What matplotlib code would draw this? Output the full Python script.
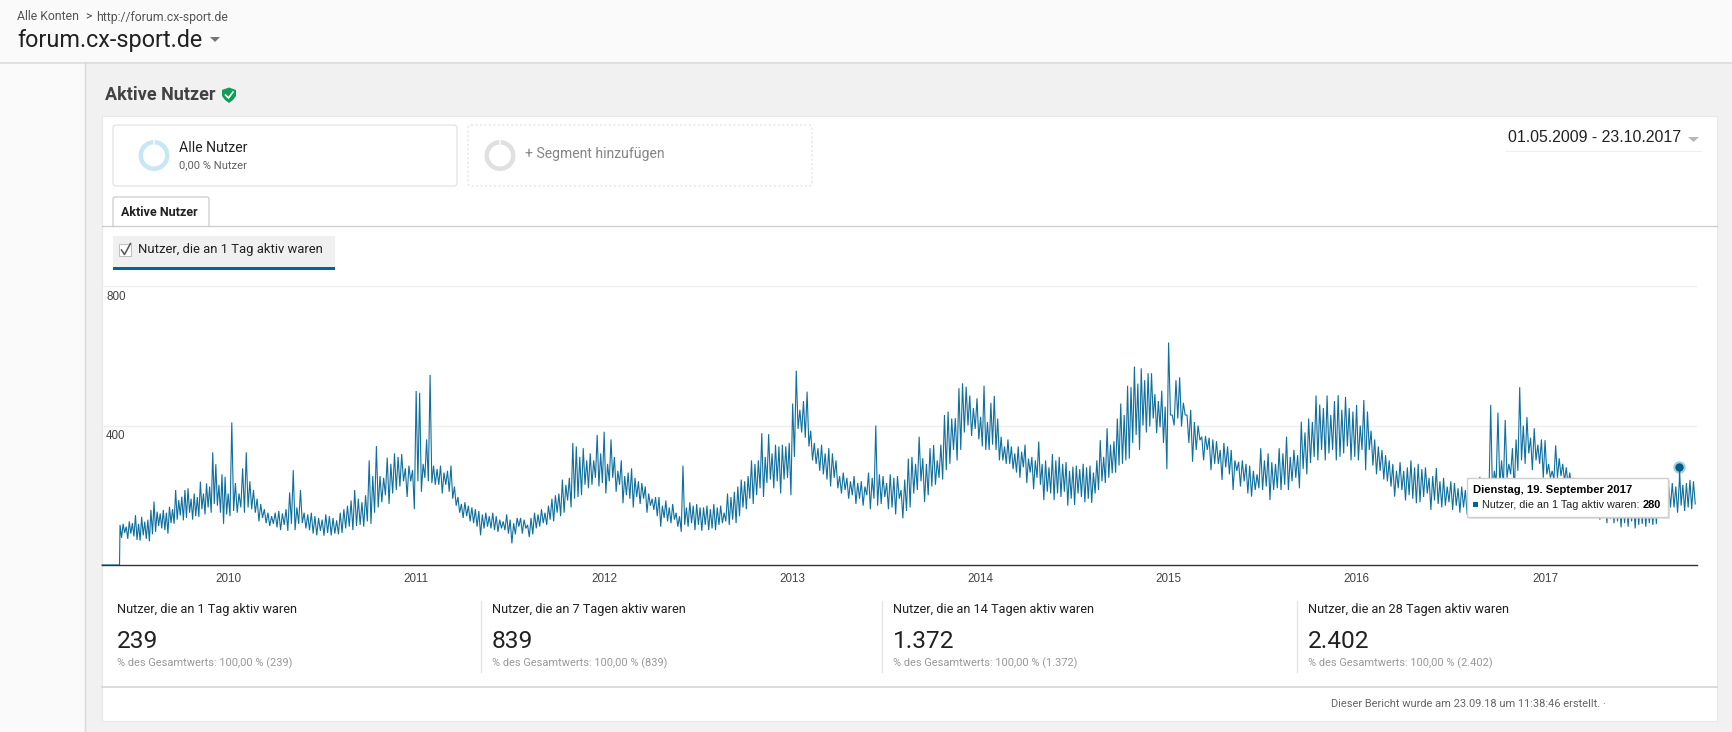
import numpy as np
import matplotlib
matplotlib.use("Agg")
import matplotlib.pyplot as plt
import matplotlib.dates as mdates
from matplotlib.patches import Rectangle, FancyBboxPatch, Wedge, Polygon
import datetime as dt

### values, alternating weekly high / weekly low
nutzer_2009 = [115,78, 118,92, 110,75, 125,90, 120,82, 143,72, 118,70, 138,85, 124,75, 130,68,
               158,88, 182,95, 153,112, 148,105, 158,100, 150,90, 167,120, 160,118, 215,130, 186,142,
               196,128, 215,135, 220,150, 190,130, 205,140, 195,138, 239,160, 205,145, 234,165, 225,150,
               323,175, 289,170, 230,150, 260,118, 253,145]
nutzer_2010 = [205,140, 409,155, 235,150, 205,165, 277,150, 323,165, 240,160, 215,150, 190,125, 175,135,
               160,120, 150,112, 140,118, 150,108, 155,100, 148,115, 160,98, 208,118, 272,100, 165,118,
               215,120, 150,105, 145,100, 150,90, 140,85, 135,98, 130,84, 145,92, 140,85, 135,90,
               128,88, 150,92, 160,105, 170,110, 185,100, 215,112, 190,115, 180,110, 200,125, 300,118,
               255,150, 341,165, 255,180, 250,200, 308,175, 290,205, 320,215, 310,225, 318,240, 277,195,
               285,240, 272,160]
nutzer_2011 = [499,240, 494,210, 290,250, 360,240, 545,235, 285,230, 275,230, 285,205, 265,230, 270,210,
               285,190, 225,170, 195,150, 175,135, 180,140, 170,125, 165,120, 160,110, 155,85, 145,105,
               150,110, 140,105, 150,100, 140,95, 130,105, 125,100, 145,90, 130,62, 120,88, 135,110,
               135,90, 130,105, 115,80, 135,88, 150,105, 145,110, 160,120, 150,115, 170,130, 190,125,
               200,150, 205,140, 245,150, 230,185, 250,165, 350,190, 340,195, 310,200, 335,230, 300,220,
               320,230, 300,250, 373,225, 320,235]
nutzer_2012 = [382,205, 290,240, 360,250, 310,210, 270,230, 300,177, 255,200, 265,190, 277,165, 250,195,
               240,175, 235,190, 225,150, 205,170, 190,158, 195,140, 195,110, 170,135, 185,125, 165,120,
               175,130, 150,110, 140,95, 285,115, 165,110, 180,120, 170,100, 175,115, 165,98, 165,115,
               170,100, 160,105, 175,100, 165,115, 170,120, 150,125, 205,115, 195,130, 210,120, 225,140,
               245,165, 240,160, 255,190, 300,175, 290,200, 300,220, 378,195, 310,235, 375,245, 320,220,
               345,240, 340,205, 345,245, 340,250, 350,200]
nutzer_2013 = [463,310, 557,390, 445,380, 470,365, 497,340, 385,300, 350,290, 335,270, 345,260, 320,245,
               335,225, 320,250, 300,220, 255,205, 265,215, 250,190, 240,200, 255,175, 235,190, 240,170,
               225,200, 265,160, 250,190, 400,170, 260,175, 255,195, 235,160, 260,165, 250,145, 255,190,
               215,134, 245,155, 305,165, 310,205, 290,215, 368,240, 306,181, 290,200, 335,225, 344,230,
               300,250, 345,245, 430,272, 440,290, 420,330, 421,300, 507,330, 521,380, 511,400, 486,370,
               450,390, 478,360]
nutzer_2014 = [425,340, 514,330, 410,330, 465,345, 485,330, 420,300, 368,300, 340,290, 360,290, 340,275,
               320,265, 340,250, 325,280, 345,235, 305,265, 310,217, 300,250, 354,230, 290,186, 300,210,
               280,205, 318,186, 300,205, 310,195, 290,210, 295,170, 270,190, 282,172, 285,205, 275,195,
               290,180, 280,190, 285,178, 265,205, 300,215, 358,240, 310,235, 392,250, 345,263, 355,265,
               420,285, 463,290, 430,300, 514,305, 510,350, 569,373, 520,330, 564,400, 530,380, 550,397,
               550,420, 490,378, 470,395, 500,350, 454,275]
nutzer_2015 = [638,430, 430,400, 530,420, 538,397, 465,430, 430,350, 445,296, 410,330, 400,358, 368,300,
               370,330, 365,272, 360,290, 355,290, 330,244, 350,280, 340,260, 330,215, 300,270, 296,225,
               300,240, 290,205, 285,196, 270,215, 260,220, 335,215, 300,225, 320,186, 295,215, 290,220,
               335,215, 320,230, 368,215, 310,240, 330,250, 315,220, 411,275, 380,260, 420,292, 410,310,
               486,300, 460,330, 450,300, 486,320, 430,330, 470,300, 487,310, 445,320, 482,340, 450,300,
               440,310]
nutzer_2016 = [459,300, 400,330, 473,272, 440,330, 385,285, 360,260, 340,270, 330,245, 315,240, 300,225,
               290,196, 270,220, 295,215, 270,185, 280,200, 300,190, 280,177, 290,180, 275,195, 280,205,
               250,158, 255,185, 278,175, 240,165, 250,170, 225,180, 240,158, 235,170, 220,150, 225,165,
               215,145, 205,160, 230,150, 210,139, 253,165, 245,180, 235,190, 459,200, 270,235, 437,230,
               300,225, 416,250, 290,260, 335,210, 360,270, 510,300, 400,290, 424,320, 365,272, 392,300,
               345,290, 360,250]
nutzer_2017 = [358,260, 290,250, 270,245, 343,250, 306,255, 290,240, 280,230, 265,215, 250,200, 240,190,
               245,170, 230,175, 225,160, 220,165, 215,140, 210,130, 205,135, 200,120, 205,132, 190,120,
               195,125, 200,108, 190,120, 195,110, 185,125, 190,105, 195,115, 185,118, 190,110, 185,120,
               180,115, 195,118, 215,150, 225,160, 220,148, 225,165, 235,165, 225,150, 240,170, 230,155,
               235,165, 244,160, 240,175]
jahre = [2009, 2010, 2011, 2012, 2013, 2014, 2015, 2016, 2017]
reihen = [nutzer_2009, nutzer_2010, nutzer_2011, nutzer_2012, nutzer_2013, nutzer_2014,
          nutzer_2015, nutzer_2016, nutzer_2017]
y_ticks = [400, 800]
jahr_labels = ["2010", "2011", "2012", "2013", "2014", "2015", "2016", "2017"]

start = dt.date(2009, 5, 1)
erster_wert = dt.date(2009, 6, 5)
ende = dt.date(2017, 10, 23)
tooltip_tag = dt.date(2017, 9, 19)
tooltip_wert = 280

kennzahl_titel = ["Nutzer, die an 1 Tag aktiv waren", "Nutzer, die an 7 Tagen aktiv waren",
                  "Nutzer, die an 14 Tagen aktiv waren", "Nutzer, die an 28 Tagen aktiv waren"]
kennzahl_werte = ["239", "839", "1.372", "2.402"]

BLAU = "#0f6f9e"
UI = "Roboto"
CHART = "Liberation Sans"

### build the daily axis from the yearly lists
xs = [mdates.date2num(start), mdates.date2num(erster_wert) - 1]
ys = [0, 0]
for jahr, werte in zip(jahre, reihen):
    von = mdates.date2num(erster_wert) if jahr == 2009 else mdates.date2num(dt.date(jahr, 1, 1))
    bis = mdates.date2num(ende) if jahr == 2017 else mdates.date2num(dt.date(jahr + 1, 1, 1))
    xs.extend(np.linspace(von, bis, len(werte), endpoint=False))
    ys.extend(werte)
xs.append(mdates.date2num(tooltip_tag))
ys.append(tooltip_wert)
xs = np.array(xs)
ys = np.array(ys)
reihenfolge = np.argsort(xs)
xs = xs[reihenfolge]
ys = ys[reihenfolge]

W, H = 1733, 732
fig = plt.figure(figsize=(W / 100, H / 100), dpi=100, facecolor="#f1f1f1")


def pixel_axes(z):
    a = fig.add_axes([0, 0, 1, 1], zorder=z)
    a.set_xlim(0, W)
    a.set_ylim(H, 0)
    a.axis("off")
    a.patch.set_alpha(0)
    return a


bg = pixel_axes(0)


def txt(a, x, y, s, px, color="#222222", family=UI, weight="normal", ha="left"):
    a.text(x, y, s, fontsize=px * 0.72, color=color, family=family, weight=weight, ha=ha, va="center")


def box(a, x0, y0, x1, y1, **kw):
    a.add_patch(Rectangle((x0, y0), x1 - x0, y1 - y0, **kw))


### page frame
box(bg, 0, 0, W, 62, fc="#fafafa", ec="none")
box(bg, 0, 62, 85, H, fc="#fafafa", ec="none")
bg.plot([0, W], [62.5, 62.5], color="#dcdcdc", lw=1.2)
bg.plot([85.5, 85.5], [62, H], color="#d8d8d8", lw=1)
txt(bg, 17, 17, "Alle Konten", 12.2, "#555555")
txt(bg, 85, 17, ">", 12, "#555555")
txt(bg, 96, 17, "http://forum.cx-sport.de", 12.3, "#555555")
txt(bg, 17, 40, "forum.cx-sport.de", 23.4, "#212121")
bg.add_patch(Polygon([(210, 37), (220, 37), (215, 42)], fc="#757575", ec="none"))
txt(bg, 105, 95, "Aktive Nutzer", 18, "#424242", weight="bold")
bg.add_patch(Polygon([(229, 87.5), (236, 90), (236, 96), (233, 100), (229, 103), (225, 100), (222, 96), (222, 90)],
                     fc="#0f9d58", ec="none"))
bg.plot([225.5, 228.5, 233], [95, 98, 92], color="white", lw=1.2)

### report panel
box(bg, 102, 116, 1717, 721, fc="white", ec="#e8e8e8", lw=0.8)

bg.add_patch(FancyBboxPatch((113, 125), 344, 61, boxstyle="round,pad=0,rounding_size=3",
                            fc="white", ec="#e0e0e0", lw=0.8))
bg.add_patch(FancyBboxPatch((468, 125), 344, 61, boxstyle="round,pad=0,rounding_size=3",
                            fc="white", ec="#e0e0e0", lw=0.8, ls=(0, (2, 2))))
bg.add_patch(Wedge((154, 155.5), 15.5, -87, 267, width=4.5, fc="#c9e6f5", ec="none"))
bg.add_patch(Wedge((500, 155.5), 15.5, -87, 267, width=4.5, fc="#e0e0e0", ec="none"))
txt(bg, 179.5, 148, "Alle Nutzer", 14, "#212121")
txt(bg, 179.5, 165, "0,00 % Nutzer", 11.2, "#616161")
txt(bg, 525, 154, "+ Segment hinzufügen", 14, "#858585")

box(bg, 1505, 150.5, 1702, 152, fc="#eeeeee", ec="none")
txt(bg, 1508, 138, "01.05.2009 - 23.10.2017", 15.9, "#222222", family=CHART)
bg.add_patch(Polygon([(1688, 137), (1699, 137), (1693.5, 142)], fc="#b8b8b8", ec="none"))

bg.plot([102, 1717], [226, 226], color="#cccccc", lw=0.9)
bg.add_patch(FancyBboxPatch((113, 197), 96, 30, boxstyle="round,pad=0,rounding_size=2",
                            fc="white", ec="#cccccc", lw=0.9))
box(bg, 114, 224, 208, 228, fc="white", ec="none")
txt(bg, 121, 212, "Aktive Nutzer", 12.5, "#212121", weight="bold")

box(bg, 113, 236, 335, 267, fc="#f0f0f0", ec="none")
box(bg, 113, 267, 335, 270, fc="#00688f", ec="none")
box(bg, 119, 244, 131, 256, fc="white", ec="#c0c0c0", lw=0.8)
bg.plot([121.5, 124.5, 130.5], [250, 254.5, 243.5], color="#555555", lw=1.1)
txt(bg, 138, 250, kennzahl_titel[0], 13, "#212121")

### the chart itself
ax_l, ax_r, ax_t, ax_b = 102, 1697, 286, 565
ax = fig.add_axes([ax_l / W, 1 - ax_b / H, (ax_r - ax_l) / W, (ax_b - ax_t) / H], zorder=1)
ax.patch.set_alpha(0)
ax.plot(xs, ys, color=BLAU, lw=0.8, solid_joinstyle="miter", clip_on=False)
ax.set_xlim(mdates.date2num(start), mdates.date2num(ende))
ax.set_ylim(0, 800)
ax.set_yticks(y_ticks)
ax.set_yticklabels([])
ax.tick_params(axis="y", length=0)
### y labels sit inside the plot, just under their grid lines
for wert in y_ticks:
    ax.annotate(str(wert), (0, wert), xycoords=ax.get_yaxis_transform(), xytext=(3, -3.5),
                textcoords="offset points", family=CHART, fontsize=11.6 * 0.72, color="#444444",
                ha="left", va="top")
ax.set_xticks([mdates.date2num(dt.date(int(j), 1, 1)) for j in jahr_labels])
ax.set_xticklabels(jahr_labels, family=CHART, fontsize=11.6 * 0.72, color="#444444")
ax.tick_params(axis="x", length=0, pad=5.5)
ax.grid(axis="y", color="#eeeeee", lw=1)
ax.set_axisbelow(True)
for seite in ["top", "left", "right"]:
    ax.spines[seite].set_visible(False)
ax.spines["bottom"].set_color("#333333")
ax.spines["bottom"].set_linewidth(1)
ax.plot([mdates.date2num(tooltip_tag)], [tooltip_wert], "o", ms=9, color=BLAU, alpha=0.35, mec="none", clip_on=False)
ax.plot([mdates.date2num(tooltip_tag)], [tooltip_wert], "o", ms=6, color="#005f86", mec="none", clip_on=False)

### tooltip on top of the line
top = pixel_axes(2)
box(top, 1469, 480, 1670, 519, fc="#c8c8c8", ec="none", alpha=0.5)
box(top, 1467, 478, 1668, 517, fc="white", ec="#cfcfcf", lw=1)
txt(top, 1473, 490, "Dienstag, 19. September 2017", 11.2, "#000000", family=CHART, weight="bold")
box(top, 1473, 502, 1478, 507, fc="#00688f", ec="none")
txt(top, 1482, 504.5, "Nutzer, die an 1 Tag aktiv waren:", 10.8, "#222222", family=CHART)
txt(top, 1661, 504.5, str(tooltip_wert), 11, "#000000", family=CHART, weight="bold", ha="right")

### summary row
spalten_x = [117, 492, 893, 1308]
for i, sx in enumerate(spalten_x):
    txt(bg, sx, 609, kennzahl_titel[i], 12.8, "#212121")
    txt(bg, sx, 642, kennzahl_werte[i], 24.5, "#212121")
    txt(bg, sx, 663, "% des Gesamtwerts: 100,00 % (" + kennzahl_werte[i] + ")", 11, "#999999")
    if i > 0:
        bg.plot([sx - 11, sx - 11], [601, 672], color="#e6e6e6", lw=1)
bg.plot([102, 1717], [687, 687], color="#d4d4d4", lw=1.2)
txt(bg, 1331, 704, "Dieser Bericht wurde am 23.09.18 um 11:38:46 erstellt. ·", 11, "#666666")

fig.savefig("out.png", dpi=100, facecolor=fig.get_facecolor())
